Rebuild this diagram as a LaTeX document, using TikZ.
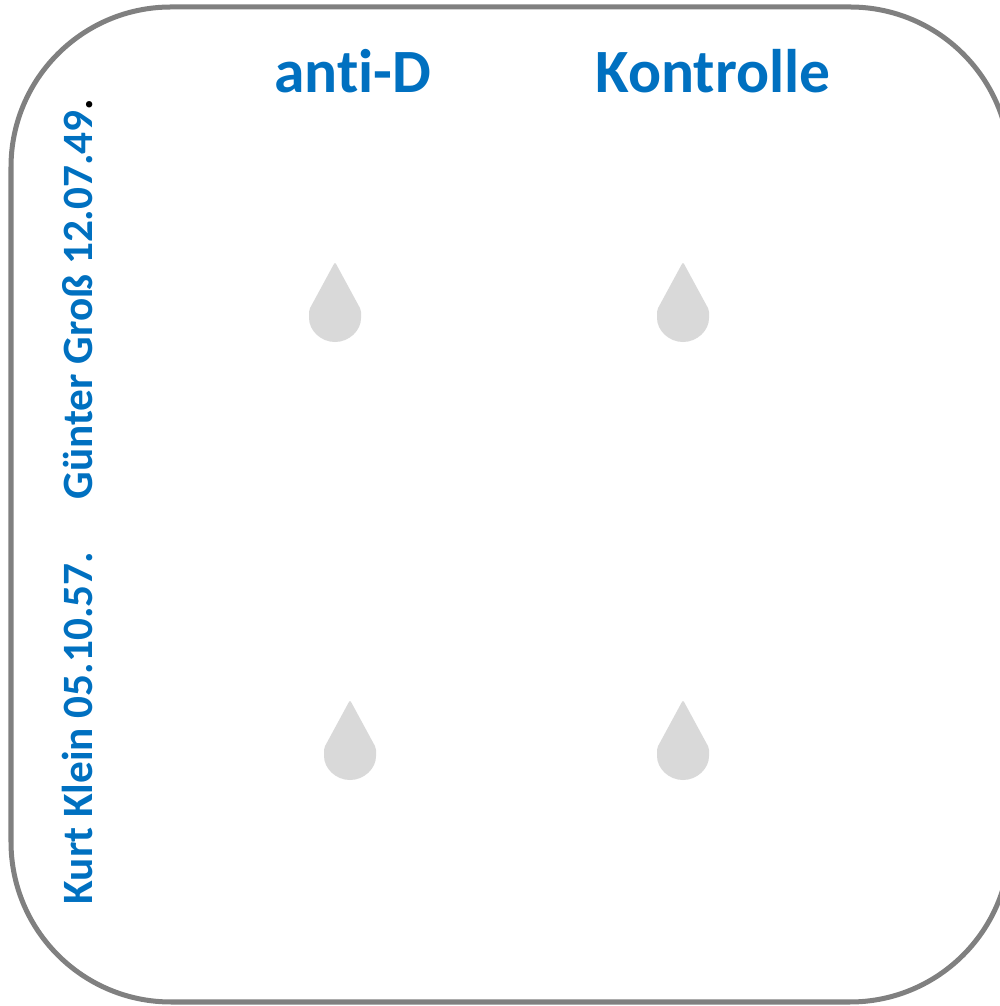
\documentclass[tikz,border=0pt]{standalone}
\usepackage{fontspec}
\setmainfont[Ligatures={NoCommon}]{Carlito}
\definecolor{cardblue}{HTML}{0070C0}
\definecolor{cardgray}{HTML}{808080}
\definecolor{dropgray}{HTML}{D9D9D9}

\tikzset{
  head/.style={text=cardblue, font=\fontsize{17.5}{20}\selectfont\bfseries, anchor=base, inner sep=0pt},
  patient/.style={text=cardblue, font=\fontsize{12.3}{14}\selectfont\bfseries, anchor=base west, rotate=90, inner sep=0pt},
  drop/.style={fill=dropgray, rounded corners=0.6pt}
}

\begin{document}
\begin{tikzpicture}[x=0.01cm, y=0.01cm]
\useasboundingbox (0,0) rectangle (1000,1006);
\clip (0,0) rectangle (1000,1006);

\draw [cardgray, line width=0.05cm, rounded corners=1.6cm] (11,999) rectangle (1010,4);

\node [head] (antiD) at (353,913) {anti-D};
\node [head] (kontrolle) at (713,913) {Kontrolle};

\node [patient] (guenter) at (92,506) {Günter Groß 12.07.49\textcolor{black}{.}};
\node [patient] (kurt) at (92,101) {Kurt Klein 05.10.57.};

% drops
\foreach \dx/\dy in {335/690, 683/690, 350/252, 683/252}
  \fill [drop] (\dx,\dy) ++(0,54) -- ++(-26,-48) -- ++(0,-6) arc(180:360:0.26cm) -- ++(0,6) -- cycle;

\end{tikzpicture}
\end{document}
